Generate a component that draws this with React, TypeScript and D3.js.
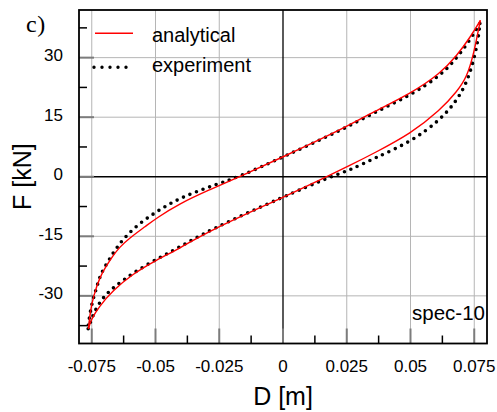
import React, { useEffect, useRef } from "react";
import * as d3 from "d3";

// analytical model, upper branch (unloading, right -> left)
const anUpperD = [0.0774, 0.0735, 0.0683, 0.0617, 0.0502, 0.0356, 0.0225, 0, -0.017, -0.0289, -0.0407, -0.0498, -0.0537, -0.0603, -0.0642, -0.0668, -0.0694, -0.0718, -0.0744, -0.0756, -0.0763];
const anUpperF = [39.4, 35.2, 30.6, 26.0, 21.0, 16.4, 11.75, 5.0, 0, -3.3, -6.8, -10.5, -12.4, -15.5, -17.8, -20, -22.6, -25.2, -30.2, -34, -38.3];
// analytical model, lower branch (loading, left -> right)
const anLowerD = [-0.0763, -0.0753, -0.0721, -0.0668, -0.059, -0.0498, -0.0407, -0.0289, 0, 0.017, 0.0264, 0.0356, 0.0502, 0.0617, 0.0683, 0.0722, 0.0748, 0.0761, 0.0774];
const anLowerF = [-38.3, -36, -32.7, -28.7, -24.5, -21, -18.1, -13.6, -5.2, 0, 2.9, 5.9, 10.9, 16.8, 21.5, 25.2, 31.1, 35.3, 39.4];

// experiment, upper branch
const exUpperD = [0.0772, 0.0735, 0.0683, 0.0617, 0.0502, 0.0356, 0.0225, 0, -0.017, -0.0289, -0.0407, -0.0498, -0.059, -0.0655, -0.0688, -0.0714, -0.0728, -0.0741, -0.0754, -0.0764];
const exUpperF = [38.6, 34.6, 30, 25.4, 20.6, 16.1, 11.6, 5.0, 0, -2.5, -5.4, -8.8, -13, -17.9, -21.6, -24.3, -27.3, -30, -33.1, -37.7];
// experiment, lower branch
const exLowerD = [-0.0764, -0.0748, -0.0728, -0.0695, -0.0655, -0.059, -0.0498, -0.0407, -0.0289, 0, 0.0185, 0.0264, 0.0356, 0.0502, 0.0617, 0.0683, 0.0722, 0.0748, 0.0765, 0.0772];
const exLowerF = [-38.3, -35.3, -32.5, -29.6, -27.4, -24.3, -20.8, -17.8, -13.4, -5.1, 0, 1.7, 4.6, 8.8, 14.3, 19.3, 23.9, 29.4, 34.4, 38.6];

const xMajor = [-0.075, -0.05, -0.025, 0, 0.025, 0.05, 0.075];
const xLabels = ["-0.075", "-0.05", "-0.025", "0", "0.025", "0.05", "0.075"];
const xMinor = [-0.0625, -0.0375, -0.0125, 0.0125, 0.0375, 0.0625];
const yMajor = [-30, -15, 0, 15, 30];
const yLabels = ["-30", "-15", "0", "15", "30"];
const yMinor = [-37.5, -22.5, -7.5, 7.5, 22.5, 37.5];

const seriesNames = ["analytical", "experiment"];

const W = 497, H = 412;
const FONT = "'Liberation Sans', Arial, sans-serif";

const App = () => {
    const svgRef = useRef(null);

    useEffect(() => {
        const svg = d3.select(svgRef.current);
        svg.selectAll("*").remove();

        const left = 79, right = 487, top = 10, bottom = 343.5;
        const x = d3.scaleLinear().domain([-0.08, 0.08]).range([left, right]);
        const y = d3.scaleLinear().domain([-42, 42]).range([bottom, top]);

        // grid
        const grid = svg.append("g");
        xMajor.filter(v => v !== 0).forEach(v => {
            grid.append("line").attr("x1", x(v)).attr("x2", x(v)).attr("y1", top).attr("y2", bottom)
                .attr("stroke", "#b5b5b5").attr("stroke-width", 1);
        });
        yMajor.filter(v => v !== 0).forEach(v => {
            grid.append("line").attr("x1", left).attr("x2", right).attr("y1", y(v)).attr("y2", y(v))
                .attr("stroke", "#b5b5b5").attr("stroke-width", 1);
        });
        // zero lines
        grid.append("line").attr("x1", x(0)).attr("x2", x(0)).attr("y1", top).attr("y2", bottom)
            .attr("stroke", "#000").attr("stroke-width", 1.3);
        grid.append("line").attr("x1", left).attr("x2", right).attr("y1", y(0)).attr("y2", y(0))
            .attr("stroke", "#000").attr("stroke-width", 1.3);

        // ticks
        xMajor.forEach(v => {
            svg.append("line").attr("x1", x(v)).attr("x2", x(v)).attr("y1", bottom).attr("y2", bottom - 15)
                .attr("stroke", "#7c7c7c").attr("stroke-width", 2);
        });
        xMinor.forEach(v => {
            svg.append("line").attr("x1", x(v)).attr("x2", x(v)).attr("y1", bottom).attr("y2", bottom - 8)
                .attr("stroke", "#000").attr("stroke-width", 1.5);
        });
        yMajor.forEach(v => {
            svg.append("line").attr("x1", left).attr("x2", left + 15).attr("y1", y(v)).attr("y2", y(v))
                .attr("stroke", "#7c7c7c").attr("stroke-width", 2);
        });
        yMinor.forEach(v => {
            svg.append("line").attr("x1", left).attr("x2", left + 8).attr("y1", y(v)).attr("y2", y(v))
                .attr("stroke", "#000").attr("stroke-width", 1.5);
        });

        // tick labels
        xMajor.forEach((v, i) => {
            svg.append("text").attr("x", x(v)).attr("y", 371.5).attr("text-anchor", "middle")
                .attr("font-family", FONT).attr("font-size", 17).text(xLabels[i]);
        });
        yMajor.forEach((v, i) => {
            svg.append("text").attr("x", 63).attr("y", y(v) + 3.5).attr("text-anchor", "end")
                .attr("font-family", FONT).attr("font-size", 17).text(yLabels[i]);
        });

        // each branch is smoothed on its own; basis keeps the end points (loop tips)
        const line = d3.line()
            .x(d => x(d[0]))
            .y(d => y(d[1]))
            .curve(d3.curveBasis);

        const pts = (ds, fs) => ds.map((d, i) => [d, fs[i]]);

        // experiment (dotted)
        [pts(exLowerD, exLowerF), pts(exUpperD, exUpperF)].forEach(branch => {
            svg.append("path").attr("d", line(branch)).attr("fill", "none")
                .attr("stroke", "#000").attr("stroke-width", 3.6)
                .attr("stroke-linecap", "round").attr("stroke-dasharray", "0 7");
        });
        // analytical
        [pts(anLowerD, anLowerF), pts(anUpperD, anUpperF)].forEach(branch => {
            svg.append("path").attr("d", line(branch)).attr("fill", "none")
                .attr("stroke", "#ff0000").attr("stroke-width", 1.4);
        });

        // frame
        svg.append("rect").attr("x", left).attr("y", top).attr("width", right - left).attr("height", bottom - top)
            .attr("fill", "none").attr("stroke", "#000").attr("stroke-width", 1.8);

        // legend
        svg.append("line").attr("x1", 95).attr("x2", 133).attr("y1", 33.3).attr("y2", 33.3)
            .attr("stroke", "#ff0000").attr("stroke-width", 1.4);
        svg.append("text").attr("x", 152).attr("y", 41.7).attr("font-family", FONT).attr("font-size", 20)
            .text(seriesNames[0]);
        svg.append("line").attr("x1", 94).attr("x2", 126.5).attr("y1", 67.3).attr("y2", 67.3)
            .attr("stroke", "#000").attr("stroke-width", 3.4)
            .attr("stroke-linecap", "round").attr("stroke-dasharray", "0 8");
        svg.append("text").attr("x", 152).attr("y", 71.7).attr("font-family", FONT).attr("font-size", 20)
            .text(seriesNames[1]);

        // spec label
        svg.append("text").attr("x", 485).attr("y", 320).attr("text-anchor", "end")
            .attr("font-family", FONT).attr("font-size", 20.5).text("spec-10");

        // panel label
        svg.append("text").attr("x", 26).attr("y", 31.5)
            .attr("font-family", "'Liberation Serif', 'Times New Roman', serif").attr("font-size", 24)
            .attr("letter-spacing", 0.5).text("c)");

        // axis titles
        svg.append("text").attr("x", 283).attr("y", 405).attr("text-anchor", "middle")
            .attr("font-family", FONT).attr("font-size", 25).text("D [m]");
        svg.append("text").attr("transform", "translate(31,176.7) rotate(-90)").attr("text-anchor", "middle")
            .attr("font-family", FONT).attr("font-size", 25).text("F [kN]");
    }, []);

    return (
        <svg ref={svgRef} width={W} height={H}
            style={{ position: "absolute", left: 0, top: 0, background: "#fff" }} />
    );
};

export default App;
